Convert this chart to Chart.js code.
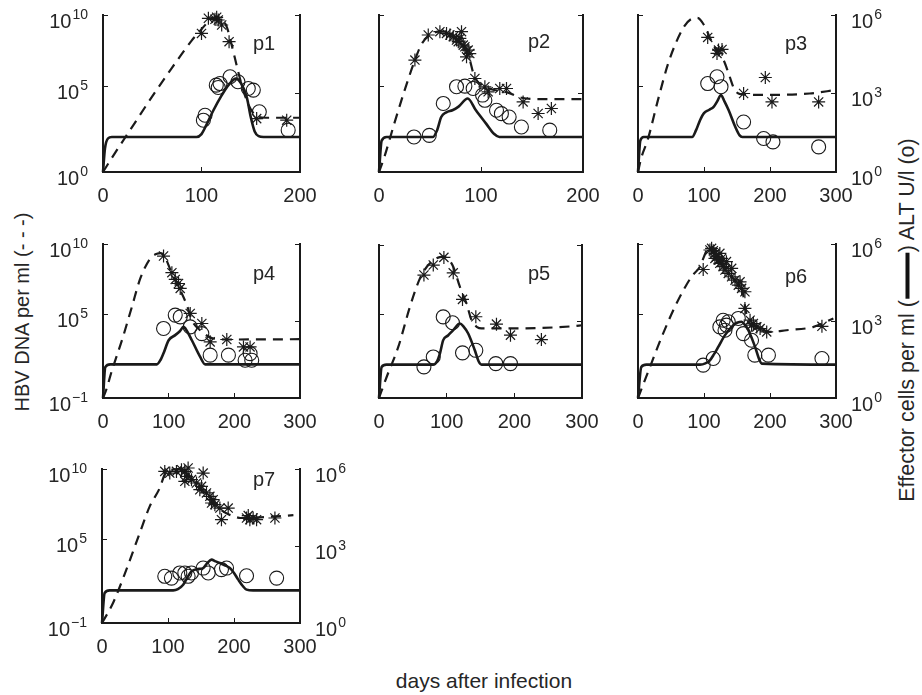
<!DOCTYPE html>
<html>
<head>
<meta charset="utf-8">
<script src="https://cdn.jsdelivr.net/npm/chart.js@4.4.1/dist/chart.umd.min.js"></script>
<style>
  body { margin: 0; background: #fff; width: 922px; height: 695px; position: relative; overflow: hidden;
         font-family: "Liberation Sans", Arial, sans-serif; color: #262626; }
  canvas { position: absolute; }
  .title { position: absolute; white-space: nowrap; transform: translate(-50%, -50%); }
  .rot { transform: translate(-50%, -50%) rotate(-90deg); }
  .bar { display: inline-block; width: 46px; height: 4px; background: #111; vertical-align: middle; margin: 0 1px; }
</style>
</head>
<body>
<div class="title rot" style="left:22px; top:312px; font-size:20px;">HBV DNA per ml (- - -)</div>
<div class="title rot" style="left:907px; top:320px; font-size:21.5px;">Effector cells per ml (<span class="bar"></span>) ALT U/l (o)</div>
<div class="title" style="left:484px; top:681px; font-size:21px;">days after infection</div>

<script>
// every pair is [day, log10 of value]
// HBV model (dashed) and HBV DNA data (*) use the left axis,
// effector model (solid) and ALT data (o) use the right axis

const p1Virus = [[0,-1],[10,0.1],[30,2.2],[50,4.3],[70,6.3],[90,8.2],[100,9.0],[108,9.6],[115,9.85],[121,9.7],[126,9.1],[131,7.8],[137,6.1],[143,4.6],[150,3.4],[157,2.9],[165,2.8],[200,2.8]];
const p1Effector = [[0,0],[2,0.9],[5,1.28],[9,1.34],[95,1.34],[100,1.45],[105,1.8],[112,2.35],[120,2.9],[128,3.35],[135,3.57],[140,3.4],[146,2.85],[150,2.1],[154,1.55],[158,1.37],[163,1.34],[200,1.34]];
const p1VirusData = [[100,8.71],[107,9.77],[113.7,9.7],[115.4,9.84],[117,9.65],[120.5,9.3],[128,8.13],[156,2.74],[186.5,2.63]];
const p1AltData = [[101.9,1.98],[103.6,2.17],[115,3.32],[117,3.23],[118.8,3.38],[129,3.64],[137,3.45],[147.5,3.19],[152.6,3.13],[158.7,2.3],[188,1.6]];

const p2Virus = [[0,-1],[5,0.0],[15,2.4],[25,4.7],[35,6.8],[42,8.0],[50,8.6],[60,8.85],[70,8.7],[80,8.0],[88,7.1],[93,5.8],[100,5.1],[110,4.8],[125,4.6],[140,4.2],[160,4.1],[200,4.1]];
const p2Effector = [[0,0],[2.6,1.2],[7.5,1.34],[53,1.34],[57,1.6],[61,2.1],[66,2.28],[72,2.36],[78,2.5],[87,2.81],[95,2.36],[105,1.85],[113,1.45],[118,1.34],[200,1.34]];
const p2VirusData = [[35.2,6.84],[48.3,8.6],[59.7,8.83],[66.2,8.71],[69.5,8.6],[72.8,8.48],[76,8.25],[77.7,8.13],[79.3,8.36],[80.9,8.83],[82.6,7.89],[84.2,7.77],[85.8,7.07],[87.4,7.54],[89,7.3],[94,5.55],[103.8,4.97],[107,4.62],[118.4,4.85],[125,4.85],[141.3,3.91],[156,3.1],[169,3.45]];
const p2AltData = [[34.3,1.34],[49.3,1.4],[63,2.62],[76,3.26],[84.2,3.28],[92.3,3.19],[101.5,2.94],[103.8,2.74],[115.2,2.36],[120,2.23],[127.6,2.1],[139.6,1.72],[167.4,1.6]];

const p3Virus = [[0,-1],[5,0.0],[15,1.3],[30,4.0],[45,6.5],[57,8.0],[70,9.2],[80,9.7],[90,9.8],[100,9.3],[110,8.3],[120,7.4],[130,6.8],[138,5.8],[146,4.8],[155,4.45],[200,4.4],[260,4.5],[300,4.75]];
const p3Effector = [[0,0],[3.5,1.2],[8.6,1.34],[82,1.34],[88,1.6],[94,1.98],[100,2.25],[108,2.38],[114.6,2.49],[120,2.7],[125.8,2.94],[131,2.7],[137.4,2.36],[147.5,1.72],[154,1.4],[158,1.34],[300,1.34]];
const p3VirusData = [[105.6,8.43],[119.7,7.31],[122,7.54],[127.3,7.59],[160,4.5],[192.9,5.62],[203,3.91],[273.7,3.91]];
const p3AltData = [[105.6,3.38],[119.7,3.64],[125.8,3.26],[160,1.91],[190.4,1.28],[204.5,1.15],[273.7,0.96]];

const p4Virus = [[0,-1],[5,-0.4],[13.7,0.98],[28.9,3.13],[44,5.51],[56.8,7.54],[72,8.97],[82,9.3],[88,9.35],[94,9.1],[104.9,7.9],[117.6,6.71],[127.7,5.63],[135.3,4.56],[148,3.84],[168,3.25],[198,3.18],[300,3.2]];
const p4Effector = [[0,0],[3.5,1.2],[11,1.31],[82,1.31],[88,1.5],[92,1.73],[100,2.25],[110,2.45],[117,2.6],[122.6,2.77],[128,2.6],[135.3,2.25],[148,1.6],[155.6,1.31],[300,1.31]];
const p4VirusData = [[92.2,9.14],[104.9,7.95],[110,7.47],[115,7.18],[117.6,6.83],[132.8,5.04],[150.5,4.32],[163.2,3.01],[188.5,3.18],[213.9,2.65],[224,2.65]];
const p4AltData = [[92.2,2.71],[110,3.23],[117.6,3.16],[132.8,2.77],[150.5,2.51],[163.2,1.67],[191,1.67],[216.4,1.47],[224,1.73],[226.5,1.47]];

const p5Virus = [[0,-1],[11.3,0.51],[28.5,2.67],[45.7,5.56],[60.5,7.6],[72.8,8.56],[85,9.04],[94.9,9.16],[102,9.0],[109.7,8.44],[119.5,7.0],[129.3,5.8],[136.7,4.6],[145,4.1],[151.5,4.0],[203,4.0],[286.7,4.16],[300,4.23]];
const p5Effector = [[0,0],[3.9,1.22],[11,1.31],[80,1.31],[86,1.45],[90,1.74],[94.9,2.27],[102,2.45],[109.7,2.66],[119.5,2.92],[125,2.8],[131.8,2.53],[141.6,1.87],[147,1.45],[151.5,1.31],[300,1.31]];
const p5VirusData = [[66.4,7.84],[80.2,8.56],[95.9,9.11],[109.7,8.0],[123.4,6.09],[143.1,4.84],[173.6,4.31],[194.3,3.52],[240,3.2]];
const p5AltData = [[66.4,1.22],[80.2,1.61],[94.9,3.18],[108.7,2.95],[123.4,1.77],[143.1,1.87],[172.6,1.35],[194.3,1.35]];

const p6Virus = [[0,-1],[15.2,0.86],[38,3.6],[58.3,5.75],[81,7.66],[93.75,8.38],[100,9.1],[106,9.7],[112,9.8],[120,9.2],[130,8.5],[140,7.8],[150,7.2],[158,6.7],[162,5.6],[166,4.6],[172,4.25],[180,4.08],[200,3.72],[225,3.84],[266,4.08],[296,4.68]];
const p6Effector = [[0,0],[5,1.21],[12.7,1.3],[94,1.3],[102,1.35],[109,1.47],[115,1.7],[121.6,1.99],[131.8,2.45],[144.4,2.84],[150,2.93],[157,2.97],[162,2.85],[167.2,2.64],[177.4,1.99],[183,1.55],[187.5,1.34],[300,1.3]];
const p6VirusData = [[98.8,8.18],[109,9.57],[111.5,9.69],[114,9.52],[116.6,9.33],[116.6,8.97],[119,9.09],[121.6,8.85],[124,8.62],[124,9.33],[126.7,8.97],[129,8.38],[131.8,8.14],[134,8.74],[136.8,7.9],[141.9,7.66],[141.9,8.26],[147,7.42],[152,7.06],[154.6,7.3],[157,6.83],[162,6.59],[162,5.4],[169.8,4.56],[172,4.2],[174.8,4.32],[180,4.08],[185,3.96],[195,3.72],[278.7,4.12]];
const p6AltData = [[98.8,1.28],[114,1.54],[124,2.77],[129,3.03],[131.8,2.64],[134,2.84],[136.8,2.97],[152,3.1],[159.6,2.51],[172,2.25],[177,1.67],[197.6,1.67],[278.7,1.54]];

const p7Virus = [[0,-1],[16.7,0.43],[36.9,2.81],[57.2,5.43],[72.3,7.33],[87.5,8.64],[95,9.6],[105,9.95],[115,10.0],[125,9.9],[135,9.4],[145,8.8],[160,8.1],[170,7.6],[180,7.1],[190,6.8],[200,6.62],[210,6.5],[240,6.55],[290,6.7]];
const p7Effector = [[0,0],[4,1.17],[11.6,1.27],[108,1.27],[115,1.32],[123,1.49],[130,1.8],[135.6,2.01],[145,2.1],[153.3,2.14],[160,2.35],[166,2.47],[172,2.4],[178.6,2.34],[186,2.25],[193.7,2.14],[200,1.95],[206.4,1.69],[213,1.45],[219,1.3],[229,1.27],[300,1.27]];
const p7VirusData = [[95.1,9.83],[102.7,9.71],[112.8,9.83],[120.4,9.95],[125.5,9.83],[125.5,9.12],[128,9.48],[130.5,10.07],[135.6,9.24],[143.2,9.0],[148.2,8.52],[150.8,8.76],[153.3,9.71],[158.3,8.29],[163.4,8.05],[166,7.57],[168.4,7.81],[171,7.45],[178.6,7.21],[181,6.38],[191.2,7.21],[219,6.5],[221.6,6.67],[224,6.38],[229,6.5],[234.2,6.38],[262,6.5]];
const p7AltData = [[95.1,1.82],[105.2,1.75],[117.9,1.95],[125.5,1.95],[130.5,1.82],[135.6,1.95],[153.3,2.14],[161,1.95],[181,2.08],[188.7,2.14],[219,1.84],[264.6,1.75]];

// axis ticks (labels are 10 raised to the exponent shown)
const leftTickValues = [1e-1, 1e5, 1e10];
const leftTickExps = ['\u22121', '5', '10'];
const p1LeftTickExps = ['0', '5', '10'];
const rightTickValues = [1, 1e3, 1e6];
const rightTickExps = ['0', '3', '6'];
const xTicks200 = [0, 100, 200];
const xTicks300 = [0, 100, 200, 300];

const INK = '#1a1a1a';
const TEXT = '#262626';
const FAMILY = '"Liberation Sans", Arial, sans-serif';
const FONT = { family: FAMILY, size: 20 };
const PAD = { l: 80, r: 80, t: 20, b: 40 };

// plot rectangles on the page: [left, top, width, height]
const panels = [
  { name: 'p1', rect: [103, 15, 197, 157], xMax: 200, xTicks: xTicks200, left: p1LeftTickExps, right: null, tag: [-47, 35],
    virus: p1Virus, effector: p1Effector, virusData: p1VirusData, altData: p1AltData },
  { name: 'p2', rect: [379, 15, 204, 157], xMax: 200, xTicks: xTicks200, left: null, right: null, tag: [-55, 33],
    virus: p2Virus, effector: p2Effector, virusData: p2VirusData, altData: p2AltData },
  { name: 'p3', rect: [638, 15, 198, 157], xMax: 300, xTicks: xTicks300, left: null, right: rightTickExps, tag: [-51, 35],
    virus: p3Virus, effector: p3Effector, virusData: p3VirusData, altData: p3AltData },
  { name: 'p4', rect: [103, 244, 197, 154], xMax: 300, xTicks: xTicks300, left: leftTickExps, right: null, tag: [-47, 36],
    virus: p4Virus, effector: p4Effector, virusData: p4VirusData, altData: p4AltData },
  { name: 'p5', rect: [379, 245, 203, 153], xMax: 300, xTicks: xTicks300, left: null, right: null, tag: [-54, 35],
    virus: p5Virus, effector: p5Effector, virusData: p5VirusData, altData: p5AltData },
  { name: 'p6', rect: [638, 244, 198, 154], xMax: 300, xTicks: xTicks300, left: null, right: rightTickExps, tag: [-51, 39],
    virus: p6Virus, effector: p6Effector, virusData: p6VirusData, altData: p6AltData },
  { name: 'p7', rect: [102, 469, 198, 154], xMax: 300, xTicks: xTicks300, left: leftTickExps, right: rightTickExps, tag: [-47, 17],
    virus: p7Virus, effector: p7Effector, virusData: p7VirusData, altData: p7AltData }
];

// panel name inside the plot
const panelTag = {
  id: 'panelTag',
  afterDraw(chart, args, opts) {
    const { ctx, chartArea } = chart;
    ctx.save();
    ctx.font = '20px ' + FAMILY;
    ctx.fillStyle = TEXT;
    ctx.textBaseline = 'alphabetic';
    ctx.fillText(opts.text, chartArea.right + opts.dx, chartArea.top + opts.dy);
    ctx.restore();
  }
};

// "10" with a raised exponent, placed at each tick of the log axes
const powerLabels = {
  id: 'powerLabels',
  afterDraw(chart, args, opts) {
    const { ctx, chartArea } = chart;
    ctx.save();
    ctx.fillStyle = TEXT;
    ctx.textBaseline = 'alphabetic';
    [['y', opts.left], ['y2', opts.right]].forEach(([id, exps]) => {
      if (!exps) return;
      const scale = chart.scales[id];
      scale.ticks.forEach((t, i) => {
        const py = scale.getPixelForValue(t.value);
        ctx.font = '20px ' + FAMILY;
        const wb = ctx.measureText('10').width;
        ctx.font = '14px ' + FAMILY;
        const we = ctx.measureText(exps[i]).width;
        const x0 = id === 'y' ? chartArea.left - 15 - wb - we - 1 : chartArea.right + 15;
        ctx.font = '20px ' + FAMILY;
        ctx.fillText('10', x0, py + 12.5);
        ctx.font = '14px ' + FAMILY;
        ctx.fillText(exps[i], x0 + wb + 1, py + 3.5);
      });
    });
    ctx.restore();
  }
};

const toXY = arr => arr.map(([d, e]) => ({ x: d, y: Math.pow(10, e) }));

function axisGrid() {
  return { display: true, drawOnChartArea: false, drawTicks: true, tickLength: -5, color: INK, lineWidth: 1 };
}

function makePanel(p) {
  const cv = document.createElement('canvas');
  cv.width = p.rect[2] + PAD.l + PAD.r;
  cv.height = p.rect[3] + PAD.t + PAD.b;
  cv.style.left = (p.rect[0] - PAD.l) + 'px';
  cv.style.top = (p.rect[1] - PAD.t) + 'px';
  document.body.appendChild(cv);

  new Chart(cv, {
    type: 'line',
    data: {
      datasets: [
        { data: toXY(p.virus), yAxisID: 'y', borderColor: INK, borderWidth: 2.2, borderDash: [10, 7],
          pointRadius: 0, cubicInterpolationMode: 'monotone', fill: false, clip: false },
        { data: toXY(p.effector), yAxisID: 'y2', borderColor: INK, borderWidth: 2.6,
          pointRadius: 0, cubicInterpolationMode: 'monotone', fill: false, clip: false },
        { data: toXY(p.virusData), yAxisID: 'y', showLine: false, pointStyle: 'star', pointRadius: 6.5,
          borderColor: INK, borderWidth: 1.2, backgroundColor: 'transparent', clip: false },
        { data: toXY(p.altData), yAxisID: 'y2', showLine: false, pointStyle: 'circle', pointRadius: 7,
          borderColor: INK, borderWidth: 1.1, backgroundColor: 'transparent', clip: false }
      ]
    },
    options: {
      responsive: false,
      animation: false,
      devicePixelRatio: 1,
      layout: { padding: { top: PAD.t, left: 0, right: 0, bottom: 0 } },
      plugins: {
        legend: { display: false },
        tooltip: { enabled: false },
        panelTag: { text: p.name, dx: p.tag[0], dy: p.tag[1] },
        powerLabels: { left: p.left, right: p.right }
      },
      scales: {
        x: {
          type: 'linear', min: 0, max: p.xMax,
          afterBuildTicks: s => { s.ticks = p.xTicks.map(v => ({ value: v })); },
          afterFit: s => { s.height = PAD.b; },
          ticks: { font: FONT, color: TEXT, padding: 17, maxRotation: 0, autoSkip: false },
          grid: axisGrid(),
          border: { display: true, color: INK, width: 2 }
        },
        y: {
          type: 'logarithmic', position: 'left', min: 1e-1, max: 1e10,
          afterBuildTicks: s => { s.ticks = leftTickValues.map(v => ({ value: v })); },
          afterFit: s => { s.width = PAD.l; },
          ticks: { display: false },
          grid: axisGrid(),
          border: { display: true, color: INK, width: 2 }
        },
        y2: {
          type: 'logarithmic', position: 'right', min: 1, max: 1e6,
          afterBuildTicks: s => { s.ticks = rightTickValues.map(v => ({ value: v })); },
          afterFit: s => { s.width = PAD.r; },
          ticks: { display: false },
          grid: axisGrid(),
          border: { display: true, color: INK, width: 2 }
        }
      }
    },
    plugins: [panelTag, powerLabels]
  });
}

panels.forEach(makePanel);
</script>
</body>
</html>
